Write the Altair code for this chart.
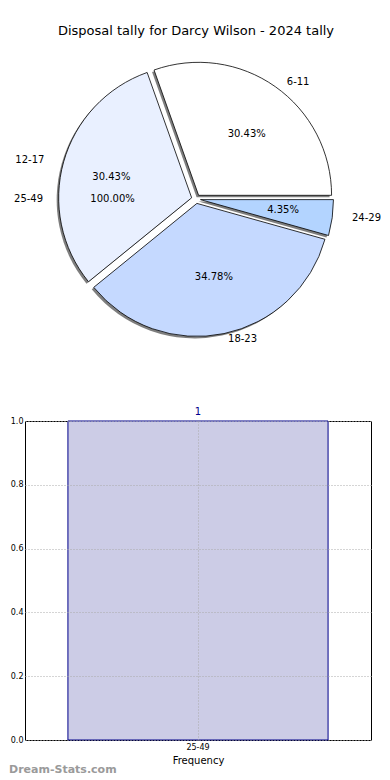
import math
import altair as alt
import pandas as pd

# ---- data ----
pie_labels = ["6-11", "24-29", "18-23", "12-17"]
pie_counts = [7, 1, 8, 7]
pie_pcts = ["30.43%", "4.35%", "34.78%", "30.43%"]
pie_colors = ["#ffffff", "#b3d4ff", "#c5d9ff", "#e9f0ff"]

extra_labels = ["25-49"]
extra_pcts = ["100.00%"]
extra_angle_deg = [180]  # matplotlib angle convention

bar_cats = ["25-49"]
bar_vals = [1]
y_ticks = [0.0, 0.2, 0.4, 0.6, 0.8, 1.0]

title = "Disposal tally for Darcy Wilson - 2024 tally"
FONT = "DejaVu Sans"

# ---- geometry ----
W, H = 342, 306
R = 133
RX, RY = 139, 126   # label ellipse (matplotlib axes aspect)
E = 4.5
total = sum(pie_counts)
A0 = math.pi / 2 - 2 * math.pi * pie_counts[0] / total

pie_df = pd.DataFrame({
    "label": pie_labels,
    "count": pie_counts,
    "pct": pie_pcts,
    "order": list(range(len(pie_labels))),
})

base = (
    alt.Chart(pie_df)
    .transform_window(cum="sum(count)", sort=[alt.SortField("order")], frame=[None, 0])
    .transform_calculate(start="datum.cum - datum.count")
    .transform_calculate(mid=f"{A0} + 2*PI*(datum.start + datum.count/2)/{total}")
    .transform_calculate(
        cx=f"{W/2} + {E}*sin(datum.mid)",
        cy=f"{H/2} - {E}*cos(datum.mid)",
    )
    .transform_calculate(
        sx="datum.cx - 2", sy="datum.cy + 2",
        lx=f"datum.cx + 1.1*{RX}*sin(datum.mid)",
        ly=f"datum.cy - 1.1*{RY}*cos(datum.mid)",
        px=f"datum.cx + 0.6*{RX}*sin(datum.mid)",
        py=f"datum.cy - 0.6*{RY}*cos(datum.mid)",
    )
)

theta_scale = alt.Scale(domain=[0, total], range=[A0, A0 + 2 * math.pi])

shadow = base.mark_arc(radius=R, color="#5e5e5e", opacity=0.8).encode(
    theta=alt.Theta("start:Q", scale=theta_scale, stack=None),
    theta2="cum:Q",
    x=alt.X("sx:Q", scale=None, axis=None),
    y=alt.Y("sy:Q", scale=None, axis=None),
)

slices = base.mark_arc(radius=R, stroke="black", strokeWidth=0.8).encode(
    theta=alt.Theta("start:Q", scale=theta_scale, stack=None),
    theta2="cum:Q",
    x=alt.X("cx:Q", scale=None, axis=None),
    y=alt.Y("cy:Q", scale=None, axis=None),
    color=alt.Color("label:N", scale=alt.Scale(domain=pie_labels, range=pie_colors), legend=None),
)

txt_common = dict(font=FONT, fontSize=10, color="black", baseline="middle")

lab_right = base.transform_filter("sin(datum.mid) > 0").mark_text(align="left", **txt_common).encode(
    x=alt.X("lx:Q", scale=None, axis=None),
    y=alt.Y("ly:Q", scale=None, axis=None),
    text="label:N",
)
lab_left = base.transform_filter("sin(datum.mid) <= 0").mark_text(align="right", **txt_common).encode(
    x=alt.X("lx:Q", scale=None, axis=None),
    y=alt.Y("ly:Q", scale=None, axis=None),
    text="label:N",
)
pct_text = base.mark_text(align="center", **txt_common).encode(
    x=alt.X("px:Q", scale=None, axis=None),
    y=alt.Y("py:Q", scale=None, axis=None),
    text="pct:N",
)

extra_df = pd.DataFrame({"label": extra_labels, "pct": extra_pcts, "deg": extra_angle_deg})
extra_base = alt.Chart(extra_df).transform_calculate(
    ang="datum.deg*PI/180"
).transform_calculate(
    lx=f"{W/2} + 1.1*{RX}*cos(datum.ang)",
    ly=f"{H/2} - 1.1*{RY}*sin(datum.ang)",
    px=f"{W/2} + 0.6*{RX}*cos(datum.ang)",
    py=f"{H/2} - 0.6*{RY}*sin(datum.ang)",
)
extra_lab = extra_base.mark_text(align="right", **txt_common).encode(
    x=alt.X("lx:Q", scale=None, axis=None),
    y=alt.Y("ly:Q", scale=None, axis=None),
    text="label:N",
)
extra_pct = extra_base.mark_text(align="center", **txt_common).encode(
    x=alt.X("px:Q", scale=None, axis=None),
    y=alt.Y("py:Q", scale=None, axis=None),
    text="pct:N",
)

pie = alt.layer(shadow, slices, lab_right, lab_left, pct_text, extra_lab, extra_pct).properties(
    width=W,
    height=H,
    title=alt.TitleParams(title, font=FONT, fontSize=13, fontWeight="normal", color="black",
                          anchor="middle", offset=8),
    view=alt.ViewBackground(strokeOpacity=0),
)

# ---- bar chart ----
BW, BH = 346, 319
bar_df = pd.DataFrame({"cat": bar_cats, "val": bar_vals})

grid_kw = dict(grid=True, gridColor="#aaaaaa", gridDash=[1, 2], gridWidth=1, zindex=1,
               domain=False, ticks=False, labelFont=FONT, labelFontSize=8, labelColor="black")

xenc = alt.X("cat:N", scale=alt.Scale(paddingInner=0, paddingOuter=0.165),
             axis=alt.Axis(title="Frequency", titleFont=FONT, titleFontSize=10,
                           titleFontWeight="normal", titleColor="black", titlePadding=4,
                           labelAngle=0, labelPadding=3, bandPosition=0.5, **grid_kw))
yenc = alt.Y("val:Q", scale=alt.Scale(domain=[0, 1], nice=False),
             axis=alt.Axis(title=None, values=y_ticks, format=".1f", labelPadding=2, **grid_kw))

bars = alt.Chart(bar_df).mark_bar(fill="#ccccE6", stroke="#00008b", strokeWidth=1).encode(
    x=xenc, y=yenc
)
bar_lbl = alt.Chart(bar_df).mark_text(dy=-9, font=FONT, fontSize=10, color="#00008b").encode(
    x="cat:N", y="val:Q", text="val:Q"
)
wm = alt.Chart(pd.DataFrame({"t": ["Dream-Stats.com"]})).mark_text(
    align="left", baseline="middle", x=-16, y=BH + 30, font=FONT, fontSize=11,
    fontWeight="bold", color="#9a9a9a"
).encode(text="t:N")

barchart = alt.layer(bars, bar_lbl, wm).properties(width=BW, height=BH)

chart = alt.vconcat(pie, barchart, spacing=54).properties(
    padding={"left": 0, "top": 17, "right": 0, "bottom": 0}
).configure_view(stroke="black", strokeWidth=1)

chart.save("out.html", embed_options={"renderer": "svg", "actions": False})
